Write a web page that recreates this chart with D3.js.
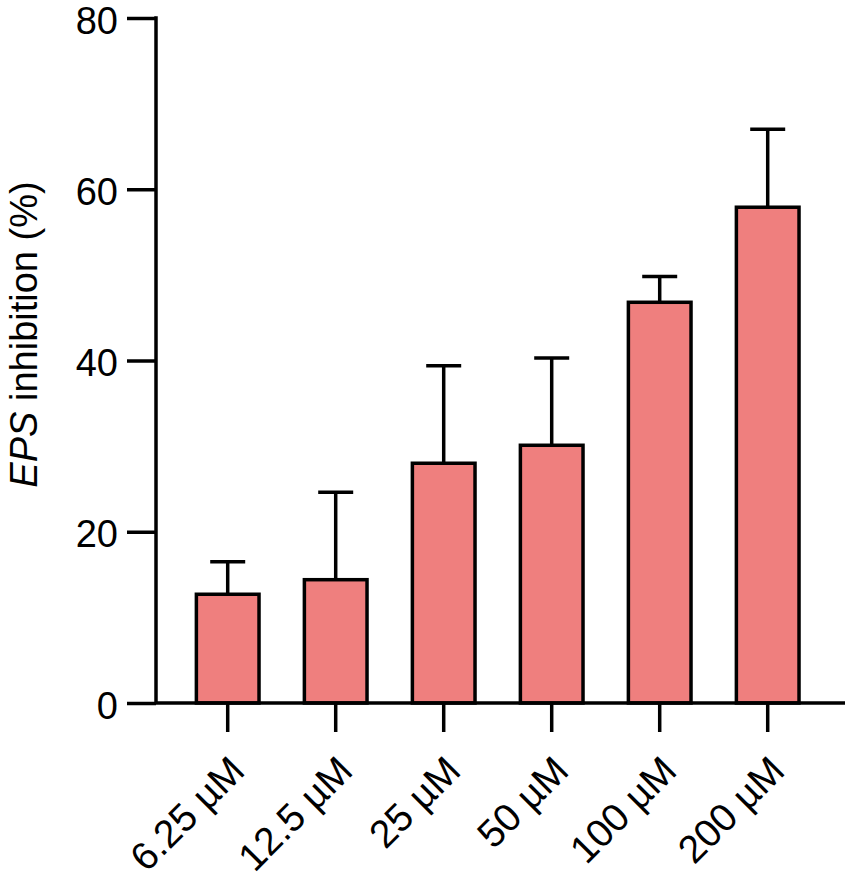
<!DOCTYPE html>
<html>
<head>
<meta charset="utf-8">
<script src="https://cdn.jsdelivr.net/npm/d3@7"></script>
<style>
  html, body { margin: 0; padding: 0; background: #ffffff; }
  svg { display: block; }
  text { font-family: "Liberation Sans", Arial, Helvetica, sans-serif; fill: #000; }
</style>
</head>
<body>
<div id="chart"></div>
<script>
const categories = ["6.25 µM", "12.5 µM", "25 µM", "50 µM", "100 µM", "200 µM"];
const means = [12.7, 14.4, 28.0, 30.1, 46.8, 57.9];
const errors = [3.8, 10.2, 11.4, 10.2, 3.0, 9.1];
const yTicks = [0, 20, 40, 60, 80];
const yTitleItalic = "EPS";
const yTitleRest = " inhibition (%)";

const W = 851, H = 885;
const axisX = 156, baseY = 703, topY = 18, rightX = 845;
const fontSize = 38;
const xFontSize = 39;
const lw = 3.5;
const barColor = "#EF7F7E";

const svg = d3.select("#chart").append("svg").attr("width", W).attr("height", H);

const x = d3.scaleBand().domain(categories).range([173.7, 821.7]).paddingInner(0.42).paddingOuter(0.21);
const y = d3.scaleLinear().domain([0, 80]).range([baseY, topY]);

const data = categories.map((c, i) => ({ c, m: means[i], e: errors[i] }));

// error bars (upper only)
const eb = svg.append("g");
data.forEach(d => {
  const cx = x(d.c) + x.bandwidth() / 2;
  eb.append("line").attr("x1", cx).attr("x2", cx).attr("y1", y(d.m)).attr("y2", y(d.m + d.e))
    .attr("stroke", "#000").attr("stroke-width", lw);
  eb.append("line").attr("x1", cx - 17.5).attr("x2", cx + 17.5).attr("y1", y(d.m + d.e)).attr("y2", y(d.m + d.e))
    .attr("stroke", "#000").attr("stroke-width", lw);
});

svg.append("g").selectAll("rect").data(data).join("rect")
  .attr("x", d => x(d.c))
  .attr("width", x.bandwidth())
  .attr("y", d => y(d.m))
  .attr("height", d => y(0) - y(d.m))
  .attr("fill", barColor)
  .attr("stroke", "#000")
  .attr("stroke-width", lw);

// x axis
const xAxis = svg.append("g").attr("transform", `translate(0,${baseY})`)
  .call(d3.axisBottom(x).tickSize(29).tickSizeOuter(0));
xAxis.select(".domain").remove();
xAxis.selectAll(".tick line").attr("stroke", "#000").attr("stroke-width", lw);
xAxis.selectAll(".tick text")
  .attr("x", 0).attr("y", 0).attr("dy", 0)
  .attr("font-size", xFontSize)
  .attr("font-family", "Liberation Sans, Arial, sans-serif")
  .attr("text-anchor", "end")
  .attr("transform", "translate(19,70) rotate(-45)");
svg.append("line").attr("x1", axisX).attr("x2", rightX).attr("y1", baseY).attr("y2", baseY)
  .attr("stroke", "#000").attr("stroke-width", lw);

// y axis
const yAxis = svg.append("g").attr("transform", `translate(${axisX},0)`)
  .call(d3.axisLeft(y).tickValues(yTicks).tickSize(29).tickSizeOuter(0).tickPadding(9));
yAxis.select(".domain").attr("stroke", "#000").attr("stroke-width", lw)
  .attr("d", `M0,${topY - lw/2}V${baseY}`);
yAxis.selectAll(".tick line").attr("stroke", "#000").attr("stroke-width", lw);
yAxis.selectAll(".tick text")
  .attr("dy", "0.4em")
  .attr("font-size", fontSize)
  .attr("font-family", "Liberation Sans, Arial, sans-serif");

// y title
const yt = svg.append("text")
  .attr("transform", `translate(37,${(y(0) + y(80)) / 2 - 26}) rotate(-90)`)
  .attr("text-anchor", "middle")
  .attr("font-size", fontSize);
yt.append("tspan").attr("font-style", "italic").text(yTitleItalic);
yt.append("tspan").text(yTitleRest);
</script>
</body>
</html>
